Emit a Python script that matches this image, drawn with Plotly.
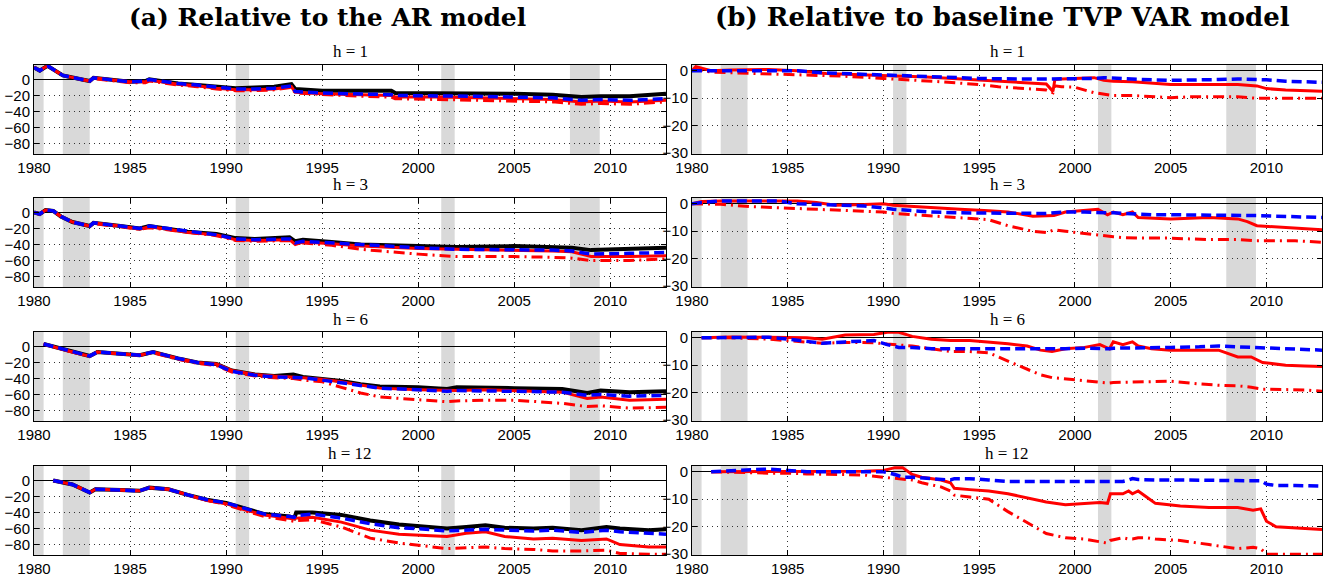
import plotly.graph_objects as go

# ---------------- data ----------------
REC_START = [1980.0, 1981.5, 1990.5, 2001.2, 2007.9]
REC_END = [1980.5, 1982.9, 1991.2, 2001.9, 2009.45]

XTICKS = [1980, 1985, 1990, 1995, 2000, 2005, 2010]
YTICKS_A = [-80, -60, -40, -20, 0]
YTICKS_B = [-30, -20, -10, 0]
H_LABELS = ["h = 1", "h = 3", "h = 6", "h = 12"]

# (a) relative to AR model, h = 1
A1_t = [1980.0, 1980.3, 1980.7, 1980.9, 1981.5, 1982.5, 1982.9, 1983.1, 1984.0, 1985.0, 1985.8, 1986.0, 1986.6,
        1987.5, 1988.5, 1989.5, 1990.5, 1991.5, 1992.5, 1993.4, 1993.6, 1995.0, 1997.0, 1998.6, 1998.8, 2001.0,
        2003.0, 2005.0, 2007.0, 2008.5, 2009.5, 2011.0, 2012.9]
A1_black = [15, 11, 17, 14, 5, 0, -2, 2, 0, -3, -2, 0, -2, -5, -7, -9, -11, -10, -9, -6, -12, -14, -14, -14, -17,
            -17, -17, -18, -19, -22, -21, -21, -18]
A1_blue = [15, 11, 17, 14, 5, 0, -2, 2, 0, -3, -2, 0, -2, -5, -7, -10, -12, -12, -11, -8, -15, -17, -18, -19, -20,
           -20, -21, -22, -23, -26, -25, -26, -24]
A1_red = [15, 11, 17, 14, 5, 0, -2, 2, 0, -3, -3, -1, -3, -6, -8, -11, -13, -13, -12, -9, -16, -18, -19, -20, -22,
          -22, -23, -24, -25, -28, -27, -28, -26]
A1_reddd = [15, 11, 17, 14, 5, 0, -2, 1, -1, -4, -4, -2, -4, -7, -9, -12, -14, -14, -13, -10, -17, -19, -21, -22,
            -24, -25, -26, -27, -28, -31, -30, -31, -28]

# (a) h = 3
A2_t = [1980.0, 1980.3, 1980.6, 1981.0, 1981.4, 1982.0, 1982.9, 1983.1, 1984.5, 1985.5, 1986.0, 1987.0, 1988.0,
        1989.5, 1990.5, 1991.5, 1993.3, 1993.6, 1994.0, 1995.5, 1997.0, 2000.0, 2002.0, 2005.0, 2007.0, 2008.0,
        2009.0, 2011.0, 2012.9]
A2_black = [0, -2, 3, 2, -5, -12, -17, -13, -17, -20, -17, -20, -24, -27, -32, -33, -31, -36, -34, -37, -40, -42,
            -43, -42, -43, -44, -47, -45, -44]
A2_blue = [0, -2, 3, 2, -5, -12, -17, -13, -17, -20, -17, -20, -24, -28, -33, -34, -33, -38, -36, -38, -41, -44,
           -46, -46, -47, -48, -52, -51, -50]
A2_red = [0, -2, 3, 2, -5, -12, -17, -13, -17, -21, -18, -21, -25, -28, -34, -35, -34, -40, -37, -39, -42, -45,
          -46, -47, -48, -49, -55, -55, -54]
A2_reddd = [0, -2, 3, 2, -5, -12, -17, -14, -18, -21, -19, -22, -25, -29, -35, -36, -35, -38, -38, -41, -46, -52,
            -55, -55, -56, -57, -60, -60, -58]

# (a) h = 6
A3_t = [1980.5, 1981.0, 1981.7, 1982.5, 1982.9, 1983.3, 1984.5, 1985.5, 1986.2, 1986.8, 1987.5, 1988.5, 1989.5,
        1990.3, 1991.5, 1992.5, 1993.5, 1994.0, 1995.0, 1996.0, 1997.0, 1998.0, 2000.0, 2001.5, 2002.0, 2003.5,
        2005.0, 2007.5, 2008.8, 2009.5, 2011.0, 2012.9]
A3_black = [3, 0, -5, -10, -12, -7, -9, -11, -7, -11, -15, -20, -22, -30, -35, -37, -35, -38, -40, -43, -47, -50,
            -51, -53, -51, -51, -52, -53, -58, -55, -57, -56]
A3_blue = [3, 0, -5, -10, -12, -7, -9, -11, -7, -11, -15, -20, -23, -31, -36, -38, -38, -39, -42, -45, -49, -52,
           -54, -56, -55, -55, -56, -57, -61, -60, -62, -61]
A3_red = [3, 0, -5, -10, -12, -7, -9, -11, -7, -11, -15, -20, -22, -30, -35, -37, -38, -39, -41, -44, -48, -52,
          -54, -55, -55, -54, -55, -57, -65, -63, -67, -66]
A3_reddd = [3, 0, -5, -10, -12, -7, -9, -11, -8, -12, -16, -21, -24, -32, -37, -39, -40, -42, -44, -51, -58, -63,
            -66, -69, -68, -67, -67, -71, -75, -74, -77, -76]

# (a) h = 12
A4_t = [1981.0, 1982.0, 1982.9, 1983.2, 1984.5, 1985.5, 1986.0, 1987.0, 1988.0, 1989.0, 1990.0, 1991.0, 1992.0,
        1993.3, 1993.55, 1993.65, 1994.5, 1996.0, 1997.5, 1999.0, 2000.0, 2001.5, 2002.5, 2003.5, 2004.5, 2006.0,
        2007.0, 2008.5, 2009.8, 2010.5, 2012.0, 2012.9]
A4_black = [0, -5, -15, -11, -12, -13, -9, -11, -18, -24, -28, -35, -42, -45, -47, -40, -40, -43, -50, -55, -57,
            -60, -58, -56, -59, -60, -59, -62, -58, -60, -62, -61]
A4_blue = [0, -5, -15, -11, -12, -13, -9, -11, -18, -24, -28, -35, -42, -45, -46, -44, -42, -47, -54, -59, -60,
           -63, -62, -61, -62, -63, -62, -65, -62, -64, -66, -67]
A4_red = [0, -5, -15, -11, -12, -13, -9, -11, -18, -25, -29, -37, -43, -47, -48, -47, -46, -52, -62, -67, -68,
          -70, -66, -64, -70, -73, -72, -75, -73, -80, -83, -83]
A4_reddd = [0, -5, -15, -11, -12, -13, -9, -11, -18, -25, -30, -38, -45, -50, -51, -50, -49, -58, -72, -78, -81,
            -85, -84, -83, -85, -86, -88, -88, -87, -91, -92, -92]

# (b) relative to baseline TVP VAR, h = 1
B1_t = [1980.0, 1980.2, 1981, 1982, 1984, 1985.5, 1987, 1988, 1990, 1991, 1992, 1993, 1994, 1995, 1996, 1997,
        1998.5, 1998.85, 1998.95, 1999.3, 2000, 2001, 2001.5, 2002, 2003, 2004, 2005, 2006, 2007.5, 2008.5,
        2009.5, 2010, 2011, 2012, 2012.9]
B1_blue = [0, 0, 0.3, 0.3, 0.3, 0, -0.8, -1, -1.5, -1.8, -2, -2.2, -2.5, -2.8, -3, -3, -3, -3, -3, -3, -3, -2.8,
           -2.5, -2.7, -3, -3.3, -3.5, -3.5, -3.2, -3, -3, -3.3, -3.8, -4, -4.2]
B1_red = [0, 1.5, 0, 0.3, 0.5, 0, -1, -1.3, -1.8, -2, -2.2, -2.6, -3, -3.3, -3.6, -4, -4.8, -7.5, -3.2, -3, -2.8,
          -2.5, -3.5, -3.8, -4, -4.5, -5, -5, -5, -5, -5.5, -6.5, -7, -7.2, -7.5]
B1_reddd = [0, 0.5, -0.5, -0.7, -1, -1.3, -1.8, -2, -2.8, -3.3, -3.6, -4, -4.5, -5, -5.8, -6.3, -7, -8, -5.5,
            -5.8, -6, -8, -8.5, -9, -9, -9.3, -9.8, -9.5, -9.5, -9.5, -10, -10, -10, -10, -10]

# (b) h = 3
B2_t = [1980.0, 1980.5, 1981.5, 1983, 1984.5, 1985.5, 1986.5, 1987.5, 1989, 1990, 1990.5, 1991.5, 1992.5, 1994,
        1995.5, 1996.5, 1997.8, 1998.5, 1998.9, 1999.5, 2000.5, 2001.2, 2001.7, 2002, 2002.5, 2003, 2003.3, 2004,
        2005, 2006, 2007, 2008.5, 2009, 2009.5, 2010.5, 2011.5, 2012.9]
B2_blue = [0, 0.5, 1, 1, 1, 0, -0.3, -0.5, -0.8, -1.5, -2, -2.5, -3, -3.3, -3.5, -3.5, -3.5, -3.5, -3.3, -3, -3,
           -3.3, -3.3, -3.3, -3.5, -3.5, -3.8, -4, -4, -4, -4, -4, -4.2, -4.3, -4.5, -4.7, -5]
B2_red = [0, 0.8, 1, 1, 1, 1, 0.5, -0.5, -0.3, 0, -0.5, -1, -1.5, -2, -2.5, -3, -4.5, -4.2, -4.3, -3, -2.5, -2,
          -4, -3, -4, -3, -5, -5.2, -5.5, -5.3, -5, -5.5, -6.5, -8, -8.5, -9, -9.5]
B2_reddd = [0, 0, -0.2, -1, -1.5, -1.8, -2, -2.3, -2.7, -3, -3.5, -4, -4.5, -5, -5.8, -8, -10, -10.5, -9.5, -10,
            -10.8, -11.5, -12, -12, -12.3, -12.5, -12.5, -12.5, -12.5, -12.8, -13, -13, -13.3, -13.5, -13.5,
            -13.5, -14]

# (b) h = 6
B3_t = [1980.5, 1982, 1984, 1985, 1986, 1986.8, 1988, 1989.5, 1990.2, 1990.8, 1991.5, 1992.5, 1993.5, 1994.5,
        1995.5, 1996.5, 1997.5, 1998.2, 1998.8, 1999.5, 2000.5, 2001.3, 2001.8, 2002, 2002.5, 2003, 2003.3, 2004,
        2005, 2006.5, 2007.5, 2008.5, 2009.2, 2009.8, 2011, 2012, 2012.9]
B3_blue = [0, 0, 0.2, -0.5, -1.5, -2, -1.5, -1, -2.5, -3.5, -3.5, -4, -4, -4, -4, -4, -4, -4.3, -4.3, -4, -3.8,
           -4, -4, -3.8, -3.8, -3.5, -3.5, -3.5, -3.5, -3.3, -3, -3.3, -3.5, -3.8, -4, -4.2, -4.5]
B3_red = [0, 0.3, 0.2, 0, 0, -0.5, 1, 1.2, 2, 2, 0.5, -0.5, -1, -1, -1.5, -2.2, -3, -4.5, -5, -4, -3.5, -2.5,
          -4, -1.5, -2.5, -1.5, -3, -4, -4.5, -4.5, -4.5, -7, -7, -9, -10, -10.3, -10.5]
B3_reddd = [0, 0, -0.5, -1, -1.5, -2, -1.7, -1.8, -2.3, -2.5, -3, -4, -5, -5, -5.5, -8.5, -11.5, -13.5, -14.5,
            -15, -15.7, -16.3, -16.5, -16.3, -16.2, -16, -16, -16, -15.8, -16.8, -17.3, -17.5, -18, -18.7, -19,
            -19, -19.5]

# (b) h = 12
B4_t = [1981.0, 1982.5, 1984, 1985, 1986, 1988, 1989, 1990, 1990.6, 1991.0, 1991.5, 1992, 1993, 1993.5, 1993.7,
        1994.5, 1995.5, 1996.5, 1997.5, 1998.5, 1999.5, 2000.5, 2001.3, 2001.7, 2001.85, 2002.5, 2002.8, 2003.0,
        2003.3, 2003.7, 2004.2, 2005.5, 2007, 2008.5, 2009.3, 2009.7, 2010.0, 2010.5, 2011.5, 2012.9]
B4_blue = [0, 0.5, 1, 0.5, 0, 0, 0, 0, -1, -2, -2, -2.2, -2.5, -3, -2.5, -2.5, -3, -3.5, -3.5, -3.5, -3.3, -3.3,
           -3.5, -3.5, -3.5, -3.5, -3, -2.5, -2.8, -3, -3, -3, -3, -3, -3, -3.3, -4.5, -5, -5, -5.2]
B4_red = [0, 0, 0, 0, 0, 0, 0.2, 0.5, 1.5, 1.5, -1, -2, -3, -4, -6, -6.5, -7, -8, -9.5, -11, -12, -11.5, -11.2,
          -11.5, -8, -8, -7, -8, -7, -9, -11.5, -12.5, -13, -13, -14, -13.5, -18, -20, -20.5, -21]
B4_reddd = [0, -0.3, -0.5, -0.5, -0.8, -1, -1.2, -2, -2.3, -2.5, -3, -4, -5.5, -7, -8.5, -9.2, -10, -14.5, -18.5,
            -22.5, -24, -24.5, -25.5, -26, -25, -24, -24.5, -24.5, -24, -24, -24.5, -25, -26.5, -28, -27.5, -28,
            -30, -30, -30, -30]

# ---------------- figure ----------------
W, H = 1331, 579
LEFT_X = (34, 666)
RIGHT_X = (692, 1322)
ROW_TOP = [65, 198, 332, 466]
ROW_H = 89

fig = go.Figure()

panels_a = [(A1_t, A1_black, A1_blue, A1_red, A1_reddd), (A2_t, A2_black, A2_blue, A2_red, A2_reddd),
            (A3_t, A3_black, A3_blue, A3_red, A3_reddd), (A4_t, A4_black, A4_blue, A4_red, A4_reddd)]
panels_b = [(B1_t, B1_blue, B1_red, B1_reddd), (B2_t, B2_blue, B2_red, B2_reddd),
            (B3_t, B3_blue, B3_red, B3_reddd), (B4_t, B4_blue, B4_red, B4_reddd)]

BLACK = dict(color="black", width=4)
BLUE = dict(color="#0000ff", width=3.5, dash="10px,5px")
RED = dict(color="#ff0000", width=3)
REDDD = dict(color="#ff0000", width=3, dash="11px,5px,2px,5px")

axis_common = dict(showline=True, linecolor="black", linewidth=1, mirror="allticks", ticks="inside",
                   ticklen=5, tickcolor="black", showgrid=True, gridcolor="#333333", gridwidth=1,
                   griddash="1px,4px", automargin=False,
                   tickfont=dict(family="Liberation Sans, Arial", size=15, color="black"))

layout = {}
shapes = []
annotations = []

idx = 0
for r in range(4):
    for c in range(2):
        idx += 1
        xa = "x" if idx == 1 else f"x{idx}"
        ya = "y" if idx == 1 else f"y{idx}"
        xdom = LEFT_X if c == 0 else RIGHT_X
        top = ROW_TOP[r]
        bottom = top + ROW_H
        layout["xaxis" if idx == 1 else f"xaxis{idx}"] = dict(
            axis_common, domain=[xdom[0] / W, xdom[1] / W], anchor=ya, range=[1980, 2012.9],
            tickvals=XTICKS, zeroline=False)
        if c == 0:
            yr = [-93, 18]
            yt = YTICKS_A
        else:
            yr = [-30.3, 2.1]
            yt = YTICKS_B
        layout["yaxis" if idx == 1 else f"yaxis{idx}"] = dict(
            axis_common, domain=[1 - bottom / H, 1 - top / H], anchor=xa, range=yr, tickvals=yt,
            zeroline=True, zerolinecolor="black", zerolinewidth=1)
        for s, e in zip(REC_START, REC_END):
            shapes.append(dict(type="rect", xref=xa, yref=f"{ya} domain", x0=s, x1=e, y0=0, y1=1,
                               fillcolor="#d9d9d9", line=dict(width=0), layer="below"))
        annotations.append(dict(text=H_LABELS[r], xref="paper", yref="paper",
                                x=(xdom[0] + xdom[1]) / 2 / W, y=1 - (top - 13) / H, xanchor="center",
                                yanchor="middle", showarrow=False,
                                font=dict(family="Liberation Serif, serif", size=17, color="black")))
        if c == 0:
            t, bk, bl, rd, rdd = panels_a[r]
            fig.add_trace(go.Scatter(x=t, y=bk, mode="lines", line=BLACK, xaxis=xa, yaxis=ya, showlegend=False))
            fig.add_trace(go.Scatter(x=t, y=rd, mode="lines", line=RED, xaxis=xa, yaxis=ya, showlegend=False))
            fig.add_trace(go.Scatter(x=t, y=rdd, mode="lines", line=REDDD, xaxis=xa, yaxis=ya, showlegend=False))
            fig.add_trace(go.Scatter(x=t, y=bl, mode="lines", line=BLUE, xaxis=xa, yaxis=ya, showlegend=False))
        else:
            t, bl, rd, rdd = panels_b[r]
            fig.add_trace(go.Scatter(x=t, y=rd, mode="lines", line=RED, xaxis=xa, yaxis=ya, showlegend=False))
            fig.add_trace(go.Scatter(x=t, y=rdd, mode="lines", line=REDDD, xaxis=xa, yaxis=ya, showlegend=False))
            fig.add_trace(go.Scatter(x=t, y=bl, mode="lines", line=BLUE, xaxis=xa, yaxis=ya, showlegend=False))

annotations.append(dict(text="<b>(a) Relative to the AR model</b>", xref="paper", yref="paper",
                        x=327 / W, y=1 - 17 / H, xanchor="center", yanchor="middle", showarrow=False,
                        font=dict(family="DejaVu Serif, serif", size=25, color="black")))
annotations.append(dict(text="<b>(b) Relative to baseline TVP VAR model</b>", xref="paper", yref="paper",
                        x=1002 / W, y=1 - 17 / H, xanchor="center", yanchor="middle", showarrow=False,
                        font=dict(family="DejaVu Serif, serif", size=26, color="black")))

fig.update_layout(**layout)
fig.update_layout(width=W, height=H, margin=dict(l=0, r=0, t=0, b=0), plot_bgcolor="white",
                  paper_bgcolor="white", shapes=shapes, annotations=annotations, showlegend=False)

fig.write_html("out.html")
